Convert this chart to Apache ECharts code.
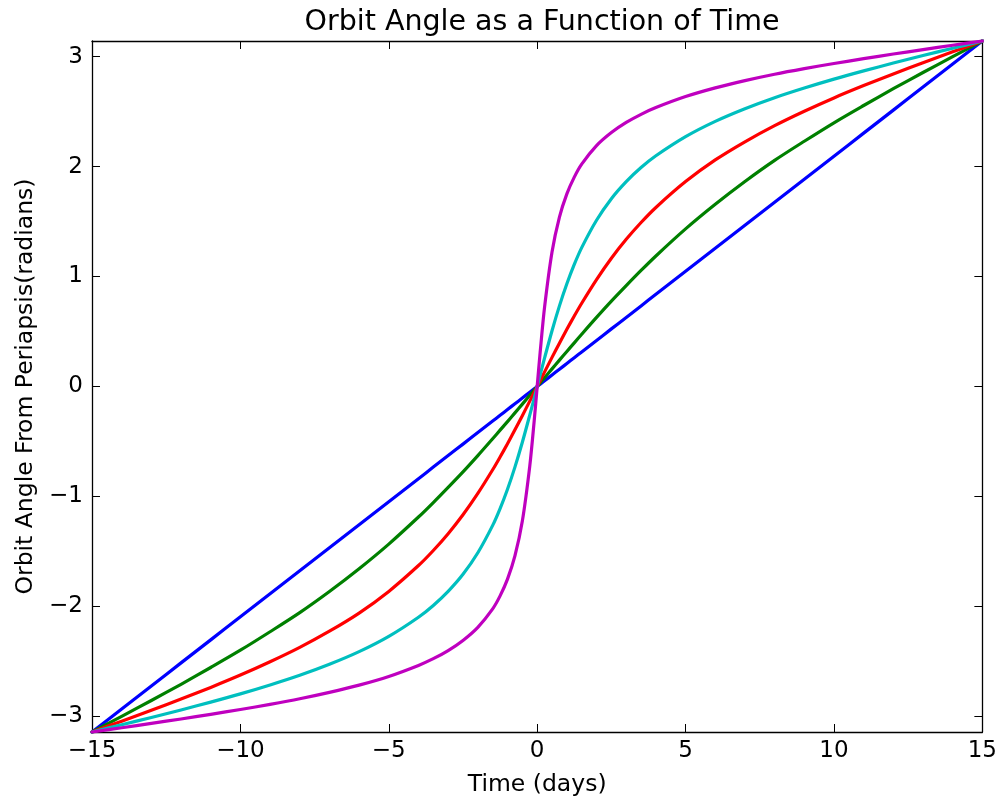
<!DOCTYPE html>
<html>
<head>
<meta charset="utf-8">
<script src="https://cdn.jsdelivr.net/npm/echarts@6/dist/echarts.min.js"></script>
<style>
html,body{margin:0;padding:0;background:#fff;}
#chart{width:1000px;height:803px;}
</style>
</head>
<body>
<div id="chart"></div>
<script>
const titleText = 'Orbit Angle as a Function of Time';
const xName = 'Time (days)';
const yName = 'Orbit Angle From Periapsis(radians)';
const xTicks = [-15, -10, -5, 0, 5, 10, 15];
const yTicks = [-3, -2, -1, 0, 1, 2, 3];

const times = [-15, -14, -13, -12, -11, -10, -9, -8, -7, -6, -5, -4, -3.5, -3, -2.5, -2, -1.5, -1.25, -1, -0.75, -0.5, -0.25, -0.1,
  0, 0.1, 0.25, 0.5, 0.75, 1, 1.25, 1.5, 2, 2.5, 3, 3.5, 4, 5, 6, 7, 8, 9, 10, 11, 12, 13, 14, 15];

const blue = [-3.1416, -2.932, -2.723, -2.513, -2.304, -2.094, -1.885, -1.676, -1.466, -1.257, -1.047, -0.838, -0.733, -0.628, -0.524, -0.419, -0.314, -0.262, -0.209, -0.157, -0.105, -0.052, -0.021,
  0, 0.021, 0.052, 0.105, 0.157, 0.209, 0.262, 0.314, 0.419, 0.524, 0.628, 0.733, 0.838, 1.047, 1.257, 1.466, 1.676, 1.885, 2.094, 2.304, 2.513, 2.723, 2.932, 3.1416];
const green = [-3.1416, -2.999, -2.855, -2.708, -2.555, -2.398, -2.230, -2.056, -1.864, -1.657, -1.433, -1.187, -1.055, -0.917, -0.776, -0.628, -0.475, -0.397, -0.319, -0.240, -0.160, -0.080, -0.032,
  0, 0.032, 0.080, 0.160, 0.240, 0.319, 0.397, 0.475, 0.628, 0.776, 0.917, 1.055, 1.187, 1.433, 1.657, 1.864, 2.056, 2.230, 2.398, 2.555, 2.708, 2.855, 2.999, 3.1416];
const red = [-3.1416, -3.043, -2.944, -2.842, -2.736, -2.624, -2.503, -2.372, -2.225, -2.060, -1.863, -1.628, -1.491, -1.338, -1.166, -0.972, -0.757, -0.641, -0.520, -0.394, -0.265, -0.133, -0.053,
  0, 0.053, 0.133, 0.265, 0.394, 0.520, 0.641, 0.757, 0.972, 1.166, 1.338, 1.491, 1.628, 1.863, 2.060, 2.225, 2.372, 2.503, 2.624, 2.736, 2.842, 2.944, 3.043, 3.1416];
const cyan = [-3.1416, -3.076, -3.010, -2.941, -2.870, -2.795, -2.714, -2.626, -2.526, -2.411, -2.272, -2.098, -1.991, -1.863, -1.708, -1.512, -1.263, -1.110, -0.934, -0.733, -0.507, -0.260, -0.105,
  0, 0.105, 0.260, 0.507, 0.733, 0.934, 1.110, 1.263, 1.512, 1.708, 1.863, 1.991, 2.098, 2.272, 2.411, 2.526, 2.626, 2.714, 2.795, 2.870, 2.941, 3.010, 3.076, 3.1416];
const magenta = [-3.1416, -3.103, -3.063, -3.023, -2.981, -2.937, -2.890, -2.839, -2.781, -2.715, -2.636, -2.536, -2.475, -2.401, -2.309, -2.190, -2.022, -1.904, -1.752, -1.541, -1.224, -0.724, -0.310,
  0, 0.310, 0.724, 1.224, 1.541, 1.752, 1.904, 2.022, 2.190, 2.309, 2.401, 2.475, 2.536, 2.636, 2.715, 2.781, 2.839, 2.890, 2.937, 2.981, 3.023, 3.063, 3.103, 3.1416];

const seriesDefs = [
  {name: 'e0', values: blue, color: '#0000ff'},
  {name: 'e1', values: green, color: '#008000'},
  {name: 'e2', values: red, color: '#ff0000'},
  {name: 'e3', values: cyan, color: '#00bfbf'},
  {name: 'e4', values: magenta, color: '#bf00bf'}
];

const FONT = 'DejaVu Sans';
const fmt = v => (v < 0 ? '\u2212' + Math.abs(v) : String(v));

const chart = echarts.init(document.getElementById('chart'), null, {renderer: 'canvas'});

const axisCommon = {
  axisLine: {show: true, onZero: false, lineStyle: {color: '#000', width: 1.3}},
  splitLine: {show: false}
};
const tickStyle = {color: '#000', width: 1};

chart.setOption({
  animation: false,
  backgroundColor: '#fff',
  title: {
    text: titleText,
    left: 537, top: 3, textAlign: 'center',
    textStyle: {fontFamily: FONT, fontWeight: 'normal', fontSize: 28.5, color: '#000'}
  },
  grid: {left: 92, right: 16, top: 41, bottom: 71, containLabel: false},
  xAxis: [
    Object.assign({
      type: 'value', min: -15, max: 15, interval: 5, position: 'bottom',
      name: xName, nameLocation: 'middle', nameGap: 41,
      nameTextStyle: {fontFamily: FONT, fontSize: 23.5, color: '#000'},
      axisTick: {show: true, inside: true, length: 8, lineStyle: tickStyle, customValues: xTicks},
      axisLabel: {show: true, margin: 8, fontFamily: FONT, fontSize: 23, color: '#000', formatter: fmt, customValues: xTicks}
    }, axisCommon),
    Object.assign({
      type: 'value', min: -15, max: 15, interval: 5, position: 'top',
      axisTick: {show: true, inside: true, length: 8, lineStyle: tickStyle, customValues: xTicks},
      axisLabel: {show: false}
    }, axisCommon)
  ],
  yAxis: [
    Object.assign({
      type: 'value', min: -Math.PI, max: Math.PI, position: 'left',
      name: yName, nameLocation: 'middle', nameGap: 52, nameRotate: 90,
      nameTextStyle: {fontFamily: FONT, fontSize: 23.5, color: '#000'},
      axisTick: {show: true, inside: true, length: 8, lineStyle: tickStyle, customValues: yTicks},
      axisLabel: {show: true, margin: 9, fontFamily: FONT, fontSize: 23, color: '#000', formatter: fmt, customValues: yTicks}
    }, axisCommon),
    Object.assign({
      type: 'value', min: -Math.PI, max: Math.PI, position: 'right',
      axisTick: {show: true, inside: true, length: 8, lineStyle: tickStyle, customValues: yTicks},
      axisLabel: {show: false}
    }, axisCommon)
  ],
  series: seriesDefs.map(s => ({
    name: s.name,
    type: 'line',
    xAxisIndex: 0, yAxisIndex: 0,
    data: times.map((t, i) => [t, s.values[i]]),
    showSymbol: false,
    smooth: 0.3,
    clip: false,
    lineStyle: {color: s.color, width: 3.2, join: 'round', cap: 'round'},
    itemStyle: {color: s.color}
  }))
});
</script>
</body>
</html>
